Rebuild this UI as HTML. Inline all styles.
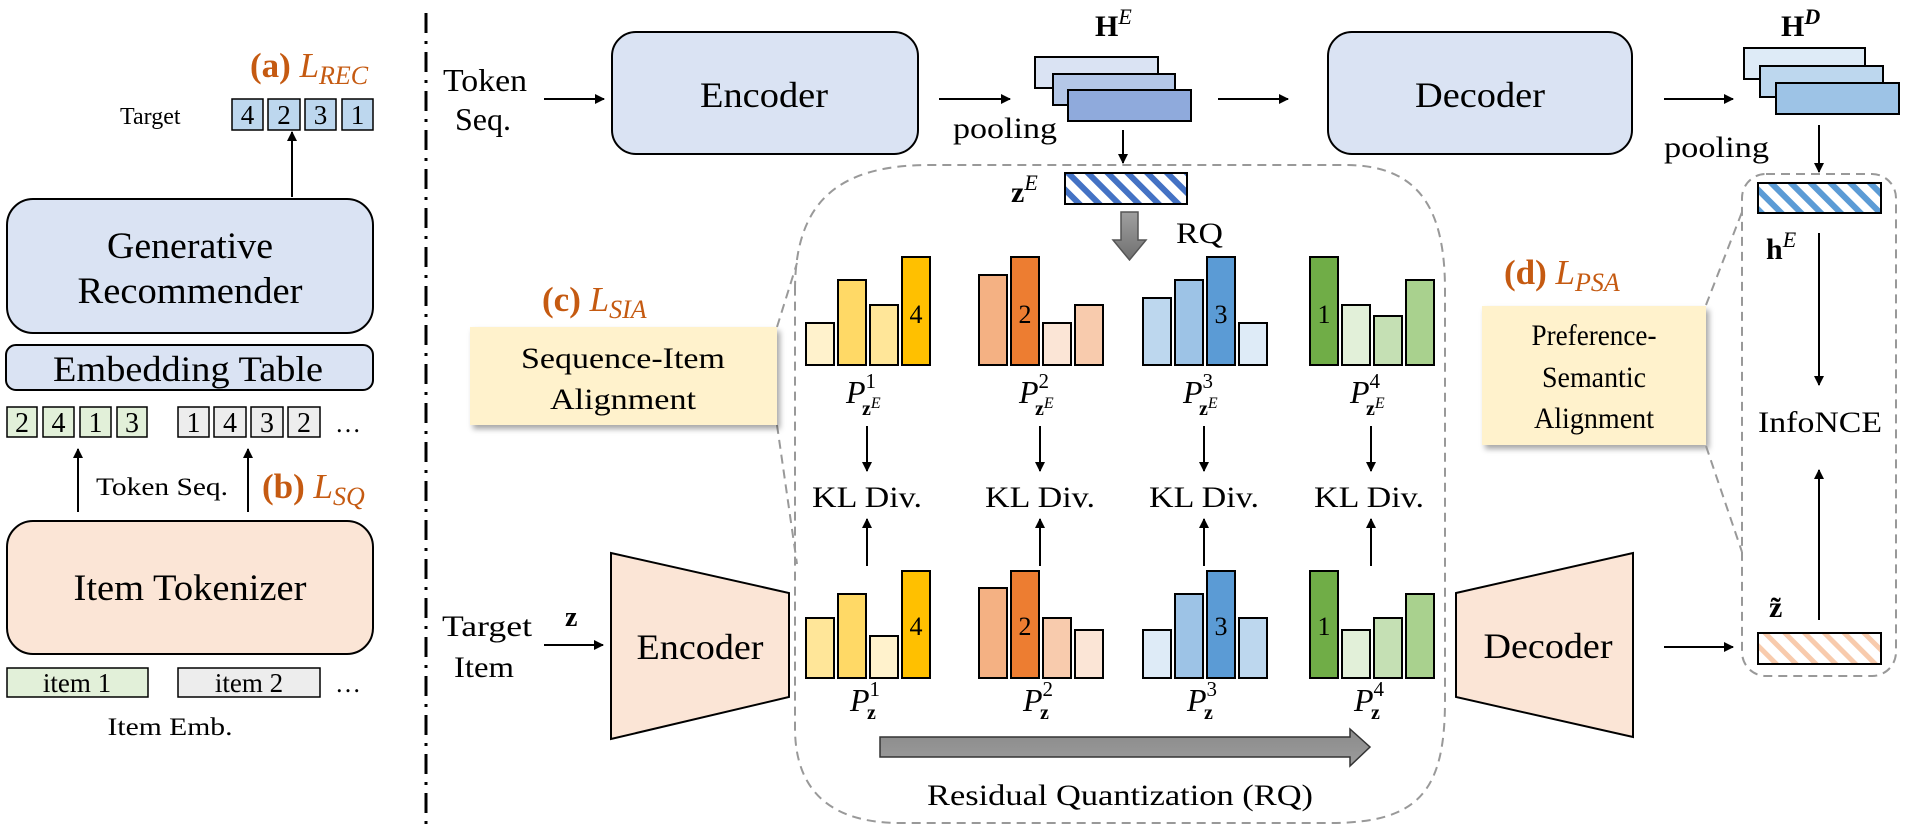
<!DOCTYPE html>
<html><head><meta charset="utf-8"><style>
html,body{margin:0;padding:0;background:#fff;}
svg{display:block;}
text{font-family:"Liberation Serif",serif;fill:#000;}
.or{fill:#c55a11;}
</style></head><body>
<svg width="1909" height="832" viewBox="0 0 1909 832" xmlns="http://www.w3.org/2000/svg">
<defs>
<marker id="ah" markerWidth="10" markerHeight="10" refX="9" refY="5" orient="auto" markerUnits="userSpaceOnUse"><path d="M0,0 L10,5 L0,10 z" fill="#000"/></marker>
<pattern id="hb" width="14" height="14" patternUnits="userSpaceOnUse" patternTransform="rotate(-45)"><rect width="14" height="14" fill="#fff"/><rect x="0" y="0" width="6" height="14" fill="#4472c4"/></pattern>
<pattern id="hb2" width="14" height="14" patternUnits="userSpaceOnUse" patternTransform="rotate(-45)"><rect width="14" height="14" fill="#fff"/><rect x="0" y="0" width="6" height="14" fill="#5b9bd5"/></pattern>
<pattern id="ho" width="14" height="14" patternUnits="userSpaceOnUse" patternTransform="rotate(-45)"><rect width="14" height="14" fill="#fff"/><rect x="0" y="0" width="5" height="14" fill="#f8cbad"/></pattern>
<linearGradient id="gv" x1="0" y1="0" x2="0" y2="1"><stop offset="0" stop-color="#a0a0a0"/><stop offset="1" stop-color="#707070"/></linearGradient>
<linearGradient id="gh" x1="0" y1="0" x2="0" y2="1"><stop offset="0" stop-color="#8a8a8a"/><stop offset="1" stop-color="#9c9c9c"/></linearGradient>
<filter id="sh" x="-10%" y="-10%" width="130%" height="140%"><feDropShadow dx="3" dy="4" stdDeviation="3" flood-color="#000" flood-opacity="0.35"/></filter>
</defs>

<!-- ========== LEFT PANEL ========== -->
<text x="250" y="77" font-size="35" font-weight="bold" class="or">(a) <tspan font-style="italic" font-weight="normal">L</tspan><tspan font-style="italic" font-weight="normal" font-size="26" dy="7">REC</tspan></text>
<text x="120" y="124" font-size="24">Target</text>
<g stroke="#000" stroke-width="1.5" fill="#bdd7ee">
<rect x="232" y="99" width="31" height="31"/><rect x="268" y="99" width="32" height="31"/><rect x="305" y="99" width="31" height="31"/><rect x="342" y="99" width="31" height="31"/>
</g>
<g font-size="27" text-anchor="middle"><text x="247.5" y="124">4</text><text x="284" y="124">2</text><text x="320.5" y="124">3</text><text x="357.5" y="124">1</text></g>
<line x1="292" y1="197" x2="292" y2="132" stroke="#000" stroke-width="2" marker-end="url(#ah)"/>

<rect x="7" y="199" width="366" height="134" rx="26" fill="#dae3f3" stroke="#000" stroke-width="2"/>
<text x="190" y="258" font-size="37" text-anchor="middle" textLength="166" lengthAdjust="spacingAndGlyphs">Generative</text>
<text x="190" y="303" font-size="37" text-anchor="middle" textLength="225" lengthAdjust="spacingAndGlyphs">Recommender</text>

<rect x="6" y="345" width="367" height="45" rx="10" fill="#dae3f3" stroke="#000" stroke-width="2"/>
<text x="188" y="381" font-size="36" text-anchor="middle" textLength="270" lengthAdjust="spacingAndGlyphs">Embedding Table</text>

<g stroke="#000" stroke-width="1.5">
<rect x="7" y="407" width="30" height="30" fill="#e2f0d9"/><rect x="43" y="407" width="31" height="30" fill="#e2f0d9"/><rect x="80" y="407" width="31" height="30" fill="#e2f0d9"/><rect x="117" y="407" width="30" height="30" fill="#e2f0d9"/>
<rect x="178" y="407" width="31" height="30" fill="#ededed"/><rect x="214" y="407" width="32" height="30" fill="#ededed"/><rect x="251" y="407" width="32" height="30" fill="#ededed"/><rect x="288" y="407" width="32" height="30" fill="#ededed"/>
</g>
<g font-size="28" text-anchor="middle">
<text x="22" y="432">2</text><text x="58.5" y="432">4</text><text x="95.5" y="432">1</text><text x="132" y="432">3</text>
<text x="193.5" y="432">1</text><text x="230" y="432">4</text><text x="267" y="432">3</text><text x="304" y="432">2</text>
</g>
<text x="335" y="432" font-size="26">…</text>
<line x1="78" y1="512" x2="78" y2="449" stroke="#000" stroke-width="2" marker-end="url(#ah)"/>
<line x1="248" y1="512" x2="248" y2="449" stroke="#000" stroke-width="2" marker-end="url(#ah)"/>
<text x="96" y="495" font-size="25" textLength="132" lengthAdjust="spacingAndGlyphs">Token Seq.</text>
<text x="262" y="498" font-size="35" font-weight="bold" class="or">(b) <tspan font-style="italic" font-weight="normal">L</tspan><tspan font-style="italic" font-weight="normal" font-size="26" dy="7">SQ</tspan></text>

<rect x="7" y="521" width="366" height="133" rx="26" fill="#fbe5d6" stroke="#000" stroke-width="2"/>
<text x="190" y="600" font-size="37" text-anchor="middle" textLength="233" lengthAdjust="spacingAndGlyphs">Item Tokenizer</text>

<rect x="7" y="668" width="141" height="29" fill="#e2f0d9" stroke="#000" stroke-width="1.5"/>
<rect x="178" y="668" width="142" height="29" fill="#ededed" stroke="#000" stroke-width="1.5"/>
<text x="77" y="692" font-size="27" text-anchor="middle">item 1</text>
<text x="249" y="692" font-size="27" text-anchor="middle">item 2</text>
<text x="335" y="692" font-size="26">…</text>
<text x="170" y="735" font-size="25" text-anchor="middle" textLength="125" lengthAdjust="spacingAndGlyphs">Item Emb.</text>

<line x1="426" y1="13" x2="426" y2="832" stroke="#000" stroke-width="3" stroke-dasharray="20 8 3 8"/>

<!-- ========== TOP ROW ========== -->
<text x="443" y="91" font-size="32" textLength="84" lengthAdjust="spacingAndGlyphs">Token</text>
<text x="455" y="130" font-size="32" textLength="56" lengthAdjust="spacingAndGlyphs">Seq.</text>
<line x1="544" y1="99" x2="604" y2="99" stroke="#000" stroke-width="2" marker-end="url(#ah)"/>
<rect x="612" y="32" width="306" height="122" rx="24" fill="#dae3f3" stroke="#000" stroke-width="2"/>
<text x="764" y="107" font-size="36" text-anchor="middle" textLength="128" lengthAdjust="spacingAndGlyphs">Encoder</text>
<line x1="939" y1="99" x2="1010" y2="99" stroke="#000" stroke-width="2" marker-end="url(#ah)"/>
<text x="953" y="138" font-size="30" textLength="104" lengthAdjust="spacingAndGlyphs">pooling</text>
<text x="1095" y="36" font-size="30" font-weight="bold">H<tspan font-style="italic" font-weight="normal" font-size="22" dy="-12">E</tspan></text>
<g stroke="#000" stroke-width="2">
<rect x="1035" y="57" width="123" height="31" fill="#dae3f3"/>
<rect x="1053" y="74" width="122" height="31" fill="#b4c7e7"/>
<rect x="1068" y="90" width="123" height="31" fill="#8faadc"/>
</g>
<line x1="1123" y1="130" x2="1123" y2="163" stroke="#000" stroke-width="2" marker-end="url(#ah)"/>
<line x1="1218" y1="99" x2="1288" y2="99" stroke="#000" stroke-width="2" marker-end="url(#ah)"/>
<rect x="1328" y="32" width="304" height="122" rx="24" fill="#dae3f3" stroke="#000" stroke-width="2"/>
<text x="1480" y="107" font-size="36" text-anchor="middle" textLength="130" lengthAdjust="spacingAndGlyphs">Decoder</text>
<line x1="1664" y1="99" x2="1733" y2="99" stroke="#000" stroke-width="2" marker-end="url(#ah)"/>
<text x="1781" y="36" font-size="30" font-weight="bold">H<tspan font-style="italic" font-size="22" dy="-12">D</tspan></text>
<g stroke="#000" stroke-width="2">
<rect x="1744" y="48" width="121" height="31" fill="#deebf7"/>
<rect x="1760" y="66" width="123" height="31" fill="#bdd7ee"/>
<rect x="1776" y="83" width="123" height="31" fill="#9dc3e6"/>
</g>
<text x="1664" y="157" font-size="30" textLength="105" lengthAdjust="spacingAndGlyphs">pooling</text>
<line x1="1819" y1="125" x2="1819" y2="172" stroke="#000" stroke-width="2" marker-end="url(#ah)"/>

<!-- ========== BIG DASHED REGION ========== -->
<path d="M795 290 C795 200 840 165 930 165 L1345 165 C1420 165 1445 210 1445 290 L1445 700 C1445 790 1420 823 1330 823 L900 823 C830 823 795 790 795 728 Z" fill="none" stroke="#999" stroke-width="2" stroke-dasharray="9 6"/>
<line x1="777" y1="327" x2="797" y2="263" stroke="#999" stroke-width="2" stroke-dasharray="9 6"/>
<line x1="777" y1="425" x2="797" y2="564" stroke="#999" stroke-width="2" stroke-dasharray="9 6"/>

<text x="1011" y="202" font-size="30" font-weight="bold">z<tspan font-style="italic" font-weight="normal" font-size="22" dy="-12">E</tspan></text>
<rect x="1065" y="173" width="122" height="31" fill="url(#hb)" stroke="#000" stroke-width="2"/>
<path d="M1121 212 L1138 212 L1138 240 L1146 240 L1129.5 260 L1113 240 L1121 240 Z" fill="url(#gv)" stroke="#555" stroke-width="1.5"/>
<text x="1176" y="243" font-size="30" textLength="47" lengthAdjust="spacingAndGlyphs">RQ</text>

<!-- SIA -->
<text x="542" y="311" font-size="35" font-weight="bold" class="or">(c) <tspan font-style="italic" font-weight="normal">L</tspan><tspan font-style="italic" font-weight="normal" font-size="26" dy="7">SIA</tspan></text>
<rect x="470" y="327" width="307" height="98" fill="#fff2cc" filter="url(#sh)"/>
<text x="623" y="368" font-size="30" text-anchor="middle" textLength="204" lengthAdjust="spacingAndGlyphs">Sequence-Item</text>
<text x="623" y="409" font-size="30" text-anchor="middle" textLength="146" lengthAdjust="spacingAndGlyphs">Alignment</text>

<!-- bar groups -->
<g stroke="#000" stroke-width="2">
<rect x="806" y="323" width="28" height="42" fill="#fff2cc"/><rect x="838" y="280" width="28" height="85" fill="#ffd966"/><rect x="870" y="305" width="28" height="60" fill="#ffe699"/><rect x="902" y="257" width="28" height="108" fill="#ffc000"/>
<rect x="979" y="275" width="28" height="90" fill="#f4b183"/><rect x="1011" y="257" width="28" height="108" fill="#ed7d31"/><rect x="1043" y="323" width="28" height="42" fill="#fbe5d6"/><rect x="1075" y="305" width="28" height="60" fill="#f8cbad"/>
<rect x="1143" y="298" width="28" height="67" fill="#bdd7ee"/><rect x="1175" y="280" width="28" height="85" fill="#9dc3e6"/><rect x="1207" y="257" width="28" height="108" fill="#5b9bd5"/><rect x="1239" y="323" width="28" height="42" fill="#deebf7"/>
<rect x="1310" y="257" width="28" height="108" fill="#70ad47"/><rect x="1342" y="305" width="28" height="60" fill="#e2f0d9"/><rect x="1374" y="316" width="28" height="49" fill="#c5e0b4"/><rect x="1406" y="280" width="28" height="85" fill="#a9d18e"/>
<rect x="806" y="618" width="28" height="60" fill="#ffe699"/><rect x="838" y="594" width="28" height="84" fill="#ffd966"/><rect x="870" y="636" width="28" height="42" fill="#fff2cc"/><rect x="902" y="571" width="28" height="107" fill="#ffc000"/>
<rect x="979" y="588" width="28" height="90" fill="#f4b183"/><rect x="1011" y="571" width="28" height="107" fill="#ed7d31"/><rect x="1043" y="618" width="28" height="60" fill="#f8cbad"/><rect x="1075" y="630" width="28" height="48" fill="#fbe5d6"/>
<rect x="1143" y="630" width="28" height="48" fill="#deebf7"/><rect x="1175" y="594" width="28" height="84" fill="#9dc3e6"/><rect x="1207" y="571" width="28" height="107" fill="#5b9bd5"/><rect x="1239" y="618" width="28" height="60" fill="#bdd7ee"/>
<rect x="1310" y="571" width="28" height="107" fill="#70ad47"/><rect x="1342" y="630" width="28" height="48" fill="#e2f0d9"/><rect x="1374" y="618" width="28" height="60" fill="#c5e0b4"/><rect x="1406" y="594" width="28" height="84" fill="#a9d18e"/>
</g>
<g font-size="26" text-anchor="middle">
<text x="916" y="323">4</text><text x="1025" y="323">2</text><text x="1221" y="323">3</text><text x="1324" y="323">1</text>
<text x="916" y="635">4</text><text x="1025" y="635">2</text><text x="1221" y="635">3</text><text x="1324" y="635">1</text>
</g>

<g font-size="32">
<text x="846" y="403" font-style="italic">P<tspan font-size="21" font-style="normal" dy="-15">1</tspan></text>
<text x="862" y="415" font-size="20" font-weight="bold">z<tspan font-style="italic" font-weight="normal" font-size="16" dy="-7">E</tspan></text>
<text x="1019" y="403" font-style="italic">P<tspan font-size="21" font-style="normal" dy="-15">2</tspan></text>
<text x="1035" y="415" font-size="20" font-weight="bold">z<tspan font-style="italic" font-weight="normal" font-size="16" dy="-7">E</tspan></text>
<text x="1183" y="403" font-style="italic">P<tspan font-size="21" font-style="normal" dy="-15">3</tspan></text>
<text x="1199" y="415" font-size="20" font-weight="bold">z<tspan font-style="italic" font-weight="normal" font-size="16" dy="-7">E</tspan></text>
<text x="1350" y="403" font-style="italic">P<tspan font-size="21" font-style="normal" dy="-15">4</tspan></text>
<text x="1366" y="415" font-size="20" font-weight="bold">z<tspan font-style="italic" font-weight="normal" font-size="16" dy="-7">E</tspan></text>
</g>
<g font-size="32">
<text x="850" y="711" font-style="italic">P<tspan font-size="21" font-style="normal" dy="-15">1</tspan></text>
<text x="867" y="719" font-size="20" font-weight="bold">z</text>
<text x="1023" y="711" font-style="italic">P<tspan font-size="21" font-style="normal" dy="-15">2</tspan></text>
<text x="1040" y="719" font-size="20" font-weight="bold">z</text>
<text x="1187" y="711" font-style="italic">P<tspan font-size="21" font-style="normal" dy="-15">3</tspan></text>
<text x="1204" y="719" font-size="20" font-weight="bold">z</text>
<text x="1354" y="711" font-style="italic">P<tspan font-size="21" font-style="normal" dy="-15">4</tspan></text>
<text x="1371" y="719" font-size="20" font-weight="bold">z</text>
</g>

<g stroke="#000" stroke-width="2">
<line x1="867" y1="426" x2="867" y2="471" marker-end="url(#ah)"/><line x1="1040" y1="426" x2="1040" y2="471" marker-end="url(#ah)"/><line x1="1204" y1="426" x2="1204" y2="471" marker-end="url(#ah)"/><line x1="1371" y1="426" x2="1371" y2="471" marker-end="url(#ah)"/>
<line x1="867" y1="566" x2="867" y2="519" marker-end="url(#ah)"/><line x1="1040" y1="566" x2="1040" y2="519" marker-end="url(#ah)"/><line x1="1204" y1="566" x2="1204" y2="519" marker-end="url(#ah)"/><line x1="1371" y1="566" x2="1371" y2="519" marker-end="url(#ah)"/>
</g>
<g font-size="30" text-anchor="middle">
<text x="867" y="507" textLength="110" lengthAdjust="spacingAndGlyphs">KL Div.</text>
<text x="1040" y="507" textLength="110" lengthAdjust="spacingAndGlyphs">KL Div.</text>
<text x="1204" y="507" textLength="110" lengthAdjust="spacingAndGlyphs">KL Div.</text>
<text x="1369" y="507" textLength="110" lengthAdjust="spacingAndGlyphs">KL Div.</text>
</g>

<path d="M880 737 L1350 737 L1350 729 L1370 747 L1350 766 L1350 757 L880 757 Z" fill="url(#gh)" stroke="#333" stroke-width="1.5"/>
<text x="1120" y="805" font-size="30" text-anchor="middle" textLength="386" lengthAdjust="spacingAndGlyphs">Residual Quantization (RQ)</text>

<text x="442" y="636" font-size="30" textLength="90" lengthAdjust="spacingAndGlyphs">Target</text>
<text x="454" y="677" font-size="30" textLength="60" lengthAdjust="spacingAndGlyphs">Item</text>
<text x="565" y="626" font-size="28" font-weight="bold">z</text>
<line x1="544" y1="645" x2="603" y2="645" stroke="#000" stroke-width="2" marker-end="url(#ah)"/>
<path d="M611 553 L789 593 L789 697 L611 739 Z" fill="#fbe5d6" stroke="#000" stroke-width="2"/>
<text x="700" y="659" font-size="36" text-anchor="middle" textLength="127" lengthAdjust="spacingAndGlyphs">Encoder</text>

<path d="M1456 593 L1633 553 L1633 737 L1456 697 Z" fill="#fbe5d6" stroke="#000" stroke-width="2"/>
<text x="1548" y="658" font-size="36" text-anchor="middle" textLength="129" lengthAdjust="spacingAndGlyphs">Decoder</text>
<line x1="1664" y1="647" x2="1733" y2="647" stroke="#000" stroke-width="2" marker-end="url(#ah)"/>

<text x="1504" y="284" font-size="35" font-weight="bold" class="or">(d) <tspan font-style="italic" font-weight="normal">L</tspan><tspan font-style="italic" font-weight="normal" font-size="26" dy="7">PSA</tspan></text>
<rect x="1482" y="306" width="224" height="139" fill="#fff2cc" filter="url(#sh)"/>
<text x="1594" y="345" font-size="30" text-anchor="middle" textLength="125" lengthAdjust="spacingAndGlyphs">Preference-</text>
<text x="1594" y="387" font-size="30" text-anchor="middle" textLength="104" lengthAdjust="spacingAndGlyphs">Semantic</text>
<text x="1594" y="428" font-size="30" text-anchor="middle" textLength="120" lengthAdjust="spacingAndGlyphs">Alignment</text>

<rect x="1742" y="174" width="154" height="502" rx="24" fill="none" stroke="#999" stroke-width="2" stroke-dasharray="9 6"/>
<line x1="1706" y1="305" x2="1742" y2="212" stroke="#999" stroke-width="2" stroke-dasharray="9 6"/>
<line x1="1706" y1="446" x2="1742" y2="552" stroke="#999" stroke-width="2" stroke-dasharray="9 6"/>
<rect x="1758" y="183" width="123" height="30" fill="url(#hb2)" stroke="#000" stroke-width="2"/>
<text x="1766" y="259" font-size="30" font-weight="bold">h<tspan font-style="italic" font-weight="normal" font-size="22" dy="-12">E</tspan></text>
<line x1="1819" y1="233" x2="1819" y2="385" stroke="#000" stroke-width="2" marker-end="url(#ah)"/>
<text x="1820" y="432" font-size="30" text-anchor="middle" textLength="124" lengthAdjust="spacingAndGlyphs">InfoNCE</text>
<line x1="1819" y1="620" x2="1819" y2="470" stroke="#000" stroke-width="2" marker-end="url(#ah)"/>
<text x="1769" y="617" font-size="30" font-weight="bold">z̃</text>
<rect x="1758" y="633" width="123" height="31" fill="url(#ho)" stroke="#000" stroke-width="2"/>
</svg>
</body></html>
